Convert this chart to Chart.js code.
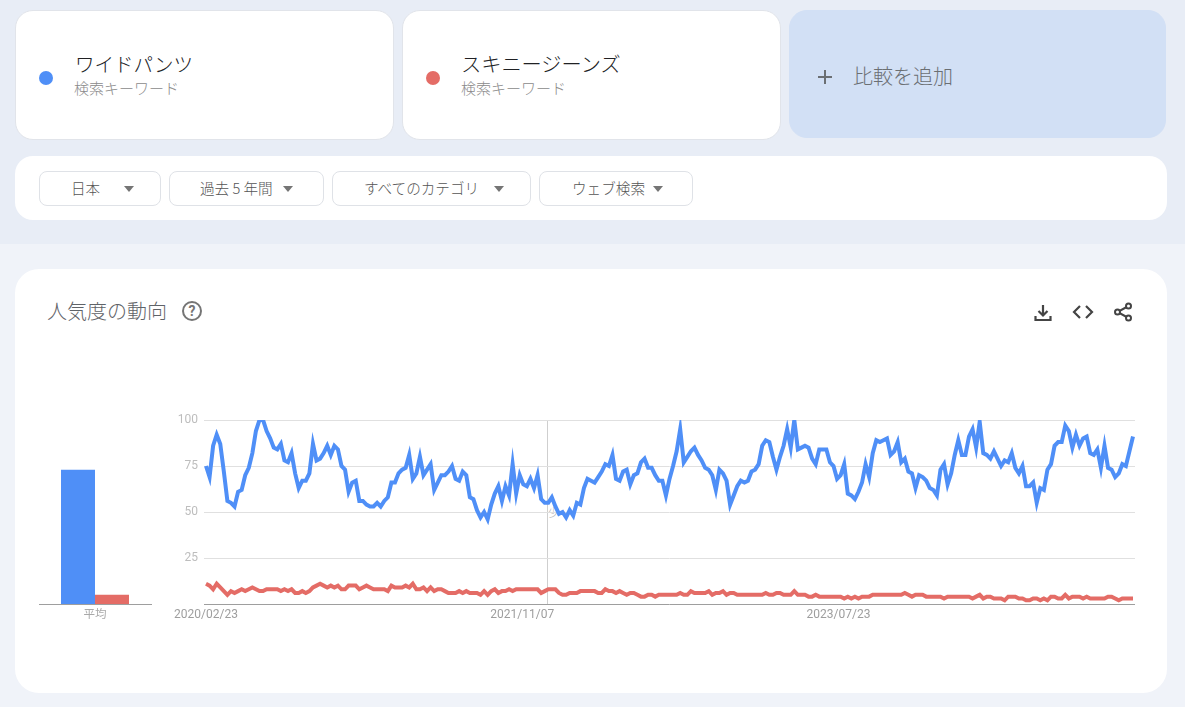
<!DOCTYPE html>
<html lang="ja"><head><meta charset="utf-8">
<script src="https://cdn.jsdelivr.net/npm/chart.js@4"></script>
<style>
html,body{margin:0;padding:0;width:1185px;height:707px;overflow:hidden;background:#f0f3f9;font-family:"Noto Sans CJK JP","Noto Sans",sans-serif;font-weight:300}
.abs,.card,.btn,canvas{position:absolute;box-sizing:border-box}
#top{position:absolute;left:0;top:0;width:1185px;height:244px;background:#e8edf6}
.card{background:#fff;border:1px solid #e1e4ea;border-radius:18px}
.dot{position:absolute;width:14px;height:14px;border-radius:50%}
.t{position:absolute;white-space:nowrap;line-height:1}
.btn{top:171px;height:35px;background:#fff;border:1px solid #dfe2e7;border-radius:8px;color:#555;font-size:14.6px}
.btn span{position:absolute;top:9px;white-space:nowrap;line-height:1}
.btn i{position:absolute;top:14px;width:0;height:0;border-left:5px solid transparent;border-right:5px solid transparent;border-top:6px solid #757575}
</style></head><body>
<div id="top"></div>
<div class="card" style="left:15px;top:10px;width:379px;height:130px"></div>
<div class="card" style="left:402px;top:10px;width:379px;height:130px"></div>
<div class="card" style="left:789px;top:10px;width:377px;height:128px;background:#d2e0f5;border-color:#d2e0f5"></div>
<div class="dot" style="left:39px;top:71px;background:#4f8ff7"></div>
<div class="dot" style="left:426px;top:71px;background:#e46c66"></div>
<div class="t" style="left:75px;top:54px;font-size:19.500px;color:#202124">ワイドパンツ</div>
<div class="t" style="left:461px;top:54px;font-size:20.200px;color:#202124">スキニージーンズ</div>
<div class="t" style="left:74px;top:80px;font-size:15px;color:#8a8a8a">検索キーワード</div>
<div class="t" style="left:461px;top:80px;font-size:15px;color:#8a8a8a">検索キーワード</div>
<svg class="abs" style="left:817px;top:69px" width="16" height="16"><path d="M8 1v14M1 8h14" stroke="#6b6f73" stroke-width="2"/></svg>
<div class="t" style="left:853px;top:66px;font-size:20px;color:#6b6f73">比較を追加</div>
<div class="card" style="left:15px;top:156px;width:1152px;height:64px;border:0"></div>
<div class="btn" style="left:39px;width:122px"><span style="left:31px">日本</span><i style="left:84px"></i></div>
<div class="btn" style="left:169px;width:155px"><span style="left:30px">過去 5 年間</span><i style="left:113px"></i></div>
<div class="btn" style="left:332px;width:199px"><span style="left:31px">すべてのカテゴリ</span><i style="left:161px"></i></div>
<div class="btn" style="left:539px;width:154px"><span style="left:32px">ウェブ検索</span><i style="left:113px"></i></div>
<div class="card" style="left:15px;top:269px;width:1152px;height:424px;border:0;border-radius:24px"></div>
<div class="t" style="left:47px;top:301px;font-size:20px;color:#5f6368">人気度の動向</div>
<svg class="abs" style="left:181px;top:300px" width="22" height="22"><circle cx="11" cy="11" r="9" fill="none" stroke="#757575" stroke-width="2"/><text x="11" y="16" font-size="14" font-weight="700" font-family="Roboto" text-anchor="middle" fill="#757575">?</text></svg>
<svg class="abs" style="left:1032px;top:302px" width="22" height="22"><path d="M11 3v10M6.5 9l4.5 4.5L15.500 9M3.500 14v4h15v-4" fill="none" stroke="#444" stroke-width="2.200"/></svg>
<svg class="abs" style="left:1072px;top:302px" width="22" height="20"><path d="M8 4l-6 6 6 6M14 4l6 6-6 6" fill="none" stroke="#444" stroke-width="2.200"/></svg>
<svg class="abs" style="left:1112px;top:301px" width="22" height="22"><path d="M16.500 5L5.500 11l11 6" fill="none" stroke="#444" stroke-width="2"/><circle cx="16.500" cy="5" r="2.500" fill="#fff" stroke="#444" stroke-width="2"/><circle cx="5.500" cy="11" r="2.500" fill="#fff" stroke="#444" stroke-width="2"/><circle cx="16.500" cy="17" r="2.500" fill="#fff" stroke="#444" stroke-width="2"/></svg>
<div class="t" style="left:548px;top:507px;font-size:11px;color:#b5b5b5">少</div>
<canvas id="bar" style="left:20px;top:400px;width:140px;height:230px" width="140" height="230"></canvas>
<canvas id="line" style="left:170px;top:400px;width:975px;height:230px" width="975" height="230"></canvas>
<script>
const seriesNames = ["ワイドパンツ", "スキニージーンズ"];
const seriesColors = ["#4f8ff7", "#e46c66"];
const barCategories = ["平均"];
const averages = [73, 5];
const yTicks = [0, 25, 50, 75, 100];
const tickIndexes = [0, 88.7, 177.4];
const tickLabels = ["2020/02/23", "2021/11/07", "2023/07/23"];
const markerIndex = 95.7;
const widePants = [
75,69,86,92,87,72,56,55,53,61,
62,70,74,82,94,100,100,94,90,85,
84,87,78,77,82,71,63,67,67,71,
87,78,79,82,86,81,86,84,75,73,
61,66,67,56,56,54,53,53,55,53,
56,58,66,66,71,73,74,81,68,71,
80,70,73,76,62,66,70,70,72,75,
68,67,72,70,58,57,51,47,50,46,
54,60,64,56,64,59,76,60,70,65,
64,68,63,70,57,55,55,58,53,49,
50,47,51,48,55,54,63,68,67,66,
69,72,76,75,81,68,67,72,73,65,
70,71,77,79,74,74,70,67,67,59,
68,75,83,95,77,80,83,85,81,78,
74,73,70,62,73,71,67,54,59,64,
67,66,67,72,73,76,86,89,88,80,
73,80,86,95,85,100,84,85,86,85,
79,76,84,84,84,77,75,68,70,76,
60,59,57,61,66,76,69,82,89,88,
89,90,81,83,88,77,79,72,71,63,
70,69,67,63,62,59,73,76,65,71,
81,89,81,81,91,95,85,99,82,81,
79,83,79,75,78,77,82,74,71,75,
64,64,66,55,63,62,73,76,86,88,
88,97,94,85,92,86,90,91,82,81,
84,74,86,74,73,69,71,76,75,83,91];
const skinnyJeans = [
11,10,8,11,9,7,5,7,6,7,
8,7,8,9,8,7,7,8,8,8,
8,7,8,7,8,6,6,7,6,7,
9,10,11,10,9,10,9,10,8,8,
10,10,10,8,9,10,9,8,8,8,
8,7,10,9,9,9,10,9,11,8,
8,9,7,9,7,8,8,7,6,6,
6,7,6,7,6,6,6,5,7,5,
7,8,6,7,7,8,7,8,8,8,
8,8,8,8,6,7,8,8,8,6,
5,5,6,6,6,7,7,7,7,7,
6,6,8,7,7,6,7,6,5,6,
6,5,4,4,5,5,4,5,5,5,
5,5,5,6,5,5,7,6,6,6,
6,7,5,6,6,7,5,6,6,5,
5,5,5,5,5,5,5,6,5,5,
6,6,5,5,5,7,5,5,5,4,
4,5,4,4,4,4,4,4,4,3,
4,3,4,3,4,4,4,5,5,5,
5,5,5,5,5,5,6,5,4,5,
5,5,4,4,4,4,4,3,4,4,
4,4,4,4,4,3,4,5,3,4,
4,3,3,3,2,4,4,4,3,3,
2,2,3,3,2,3,2,4,4,3,
3,5,3,4,4,4,3,4,3,3,
3,3,3,4,4,3,2,3,3,3,3];

const toPoints = a => a.map((v, i) => ({x: i, y: v}));

new Chart(document.getElementById("line"), {
  type: "line",
  data: {datasets: [
    {label: seriesNames[1], data: toPoints(skinnyJeans), borderColor: seriesColors[1], borderWidth: 4, pointRadius: 0, tension: 0, borderJoinStyle: "miter", order: 2},
    {label: seriesNames[0], data: toPoints(widePants), borderColor: seriesColors[0], borderWidth: 4, pointRadius: 0, tension: 0, borderJoinStyle: "miter", order: 1}
  ]},
  options: {
    responsive: false, animation: false, devicePixelRatio: 1,
    layout: {padding: {top: 20, right: 10, left: 0, bottom: 0}},
    plugins: {legend: {display: false}, tooltip: {enabled: false}},
    scales: {
      x: {type: "linear", min: -0.56, max: 260.56,
        afterBuildTicks: a => { a.ticks = [...tickIndexes, markerIndex].sort((p, q) => p - q).map(v => ({value: v})); },
        afterFit: s => { s.height = 26; },
        grid: {color: c => c.tick && c.tick.value === markerIndex ? "#cfcfcf" : "transparent", drawTicks: false},
        border: {display: false},
        ticks: {autoSkip: false, maxRotation: 0, padding: 4, color: "#9e9e9e", font: {family: "Roboto", size: 12},
          callback: v => { const k = tickIndexes.indexOf(v); return k >= 0 ? tickLabels[k] : ""; }}
      },
      y: {min: 0, max: 100,
        afterBuildTicks: a => { a.ticks = yTicks.map(v => ({value: v})); },
        afterFit: s => { s.width = 34; },
        grid: {color: c => c.tick && c.tick.value === 0 ? "#9e9e9e" : "#e0e0e0", drawTicks: false},
        border: {display: false},
        ticks: {padding: 6, color: "#bdbdbd", font: {family: "Roboto", size: 12}, callback: v => v === 0 ? "" : String(v)}
      }
    }
  }
});

new Chart(document.getElementById("bar"), {
  type: "bar",
  data: {labels: barCategories, datasets: [
    {label: seriesNames[0], data: [averages[0]], backgroundColor: seriesColors[0]},
    {label: seriesNames[1], data: [averages[1]], backgroundColor: seriesColors[1]}
  ]},
  options: {
    responsive: false, animation: false, devicePixelRatio: 1,
    categoryPercentage: 0.607, barPercentage: 1,
    layout: {padding: {top: 20, right: 9, left: 19, bottom: 0}},
    plugins: {legend: {display: false}, tooltip: {enabled: false}},
    scales: {
      x: {afterFit: s => { s.height = 26; }, grid: {display: false, drawTicks: false}, border: {display: true, color: "#9e9e9e"},
        ticks: {padding: 3, color: "#a8a8a8", font: {family: "Noto Sans CJK JP", size: 11.5}}},
      y: {display: false, min: 0, max: 100}
    }
  }
});
</script>
</body></html>
